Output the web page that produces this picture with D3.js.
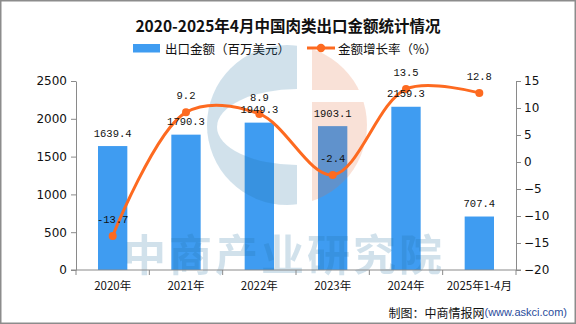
<!DOCTYPE html>
<html><head><meta charset="utf-8">
<script src="https://cdn.jsdelivr.net/npm/d3@7"></script>
<style>
html,body{margin:0;padding:0;background:#fff;}
svg{display:block;}
</style></head>
<body>
<svg id="c" width="576" height="324"></svg>
<script>
const categories = ["2020年","2021年","2022年","2023年","2024年","2025年1-4月"];
const exportValues = [1639.4, 1790.3, 1949.3, 1903.1, 2159.3, 707.4];
const growthRates = [-13.7, 9.2, 8.9, -2.4, 13.5, 12.8];
const leftTicks = [0, 500, 1000, 1500, 2000, 2500];
const rightTicks = [-20, -15, -10, -5, 0, 5, 10, 15];
const title = "2020-2025年4月中国肉类出口金额统计情况";
const legendLabels = ["出口金额（百万美元）", "金额增长率（%）"];

const svg = d3.select("#c");
const W = 576, H = 324;
const m = {left: 76, right: 516, top: 81, bottom: 270};
const barColor = "#3f9cf1", lineColor = "#fd6a20", axisColor = "#8a8a8a";
const cjk = "'Noto Sans CJK SC', 'Noto Sans', sans-serif";

svg.append("rect").attr("x",0.75).attr("y",0.75).attr("width",W-1.5).attr("height",H-1.5)
  .attr("fill","#fff").attr("stroke","#8c8c8c").attr("stroke-width",1.5);

const x = d3.scaleBand().domain(categories).range([m.left, m.right]).paddingInner(0).paddingOuter(0);
const y = d3.scaleLinear().domain([0, 2500]).range([m.bottom, m.top]);
const y2 = d3.scaleLinear().domain([-20, 15]).range([m.bottom, m.top]);
const barW = x.bandwidth() * 0.4;

// title
svg.append("text").attr("x", 288).attr("y", 25).attr("text-anchor","middle")
  .attr("dominant-baseline","central").attr("font-family", cjk).attr("font-weight","bold")
  .attr("font-size", 15.5).attr("fill","#111").text(title);

// legend
const lg = svg.append("g").attr("font-family", cjk).attr("font-size", 12.5).attr("fill","#111");
lg.append("rect").attr("x",133).attr("y",44).attr("width",27).attr("height",8.5).attr("fill",barColor);
lg.append("text").attr("x",165).attr("y",48).attr("dominant-baseline","central").text(legendLabels[0]);
lg.append("line").attr("x1",307).attr("x2",335).attr("y1",48).attr("y2",48).attr("stroke",lineColor).attr("stroke-width",3);
lg.append("circle").attr("cx",321).attr("cy",48).attr("r",4.2).attr("fill",lineColor);
lg.append("text").attr("x",338).attr("y",48).attr("dominant-baseline","central").text(legendLabels[1]);

// bars
svg.append("g").selectAll("rect").data(exportValues).join("rect")
  .attr("x",(d,i)=>x(categories[i]) + (x.bandwidth()-barW)/2)
  .attr("y",d=>y(d)).attr("width",barW).attr("height",d=>y(0)-y(d)).attr("fill",barColor);

// watermark
const wm = svg.append("g");
const defs = svg.append("defs");
const cx0 = 287, cy0 = 125, R = 80;
defs.append("clipPath").attr("id","cl").append("rect").attr("x",cx0-R-2).attr("y",cy0-R-2).attr("width",297-(cx0-R-2)).attr("height",2*R+4);
const mk = defs.append("mask").attr("id","mkB");
mk.append("rect").attr("x",0).attr("y",0).attr("width",W).attr("height",H).attr("fill","#fff");
mk.append("ellipse").attr("cx",297).attr("cy",127).attr("rx",80).attr("ry",38).attr("fill","#000");
const mk2 = defs.append("mask").attr("id","mkO");
mk2.append("rect").attr("x",312).attr("y",0).attr("width",W).attr("height",H).attr("fill","#fff");
mk2.append("rect").attr("x",312).attr("y",90).attr("width",100).attr("height",12).attr("fill","#000");
wm.append("circle").attr("cx",cx0).attr("cy",cy0).attr("r",R).attr("fill","rgb(30,110,160)").attr("opacity",0.2)
  .attr("clip-path","url(#cl)").attr("mask","url(#mkB)");
wm.append("circle").attr("cx",cx0).attr("cy",cy0).attr("r",R).attr("fill","rgb(230,110,60)").attr("opacity",0.2)
  .attr("mask","url(#mkO)");
wm.append("text").attr("x",284).attr("y",252).attr("text-anchor","middle").attr("dominant-baseline","central")
  .attr("font-family",cjk).attr("font-weight","bold").attr("font-size",43).attr("letter-spacing",3)
  .attr("fill","rgb(30,110,160)").attr("opacity",0.2).text("中商产业研究院");

// axes
const axL = svg.append("g").attr("transform",`translate(${m.left},0)`)
  .call(d3.axisLeft(y).tickValues(leftTicks).tickFormat(d3.format("d")).tickSize(5).tickSizeOuter(0).tickPadding(4));
const axR = svg.append("g").attr("transform",`translate(${m.right},0)`)
  .call(d3.axisRight(y2).tickValues(rightTicks).tickFormat(d=>String(d).replace("-","\u2212")).tickSize(5).tickSizeOuter(0).tickPadding(3));
[axL, axR].forEach(a=>{
  a.select(".domain").attr("stroke",axisColor);
  a.selectAll(".tick line").attr("stroke",axisColor);
  a.selectAll(".tick text").attr("font-family","'DejaVu Sans', sans-serif").attr("font-size",12).attr("fill","#111");
});
const axB = svg.append("g").attr("transform",`translate(0,${m.bottom})`);
axB.append("line").attr("x1",m.left-5).attr("x2",m.right+5).attr("y1",0).attr("y2",0).attr("stroke",axisColor);
const bounds = categories.map(c=>x(c)).concat([m.right]);
axB.selectAll("line.t").data(bounds).join("line").attr("class","t")
  .attr("x1",d=>d).attr("x2",d=>d).attr("y1",0).attr("y2",5).attr("stroke",axisColor);
axB.selectAll("text").data(categories).join("text")
  .attr("x",d=>x(d)+x.bandwidth()/2).attr("y",15).attr("text-anchor","middle").attr("dominant-baseline","central")
  .attr("font-family",cjk).attr("font-size",11.5).attr("fill","#111").text(d=>d);

// line
const pts = growthRates.map((v,i)=>[x(categories[i])+x.bandwidth()/2, y2(v)]);
svg.append("path").attr("d", d3.line().curve(d3.curveCatmullRom.alpha(0.5))(pts))
  .attr("fill","none").attr("stroke",lineColor).attr("stroke-width",3);
svg.append("g").selectAll("circle").data(pts).join("circle")
  .attr("cx",d=>d[0]).attr("cy",d=>d[1]).attr("r",4).attr("fill",lineColor);

// labels
const mono = "'Liberation Mono', 'DejaVu Sans Mono', monospace";
svg.append("g").selectAll("text").data(exportValues).join("text")
  .attr("x",(d,i)=>x(categories[i])+x.bandwidth()/2).attr("y",d=>y(d)-9.5)
  .attr("text-anchor","middle").attr("font-family",mono).attr("font-size",10.5).attr("fill","#111")
  .text(d=>d.toFixed(1));
svg.append("g").selectAll("text").data(growthRates).join("text")
  .attr("x",(d,i)=>pts[i][0]).attr("y",(d,i)=>pts[i][1]-13)
  .attr("text-anchor","middle").attr("font-family",mono).attr("font-size",10.5).attr("fill","#111")
  .text(d=>d.toFixed(1));

// footer
const ft = svg.append("text").attr("x",567).attr("y",312).attr("text-anchor","end").attr("dominant-baseline","central")
  .attr("font-family",cjk).attr("font-size",12);
ft.append("tspan").attr("fill","#111").text("制图：中商情报网");
ft.append("tspan").attr("fill","#2a4c9c").attr("font-family","'Liberation Sans', Arial, sans-serif").attr("font-size",11).text("(www.askci.com)");
</script>
</body></html>
